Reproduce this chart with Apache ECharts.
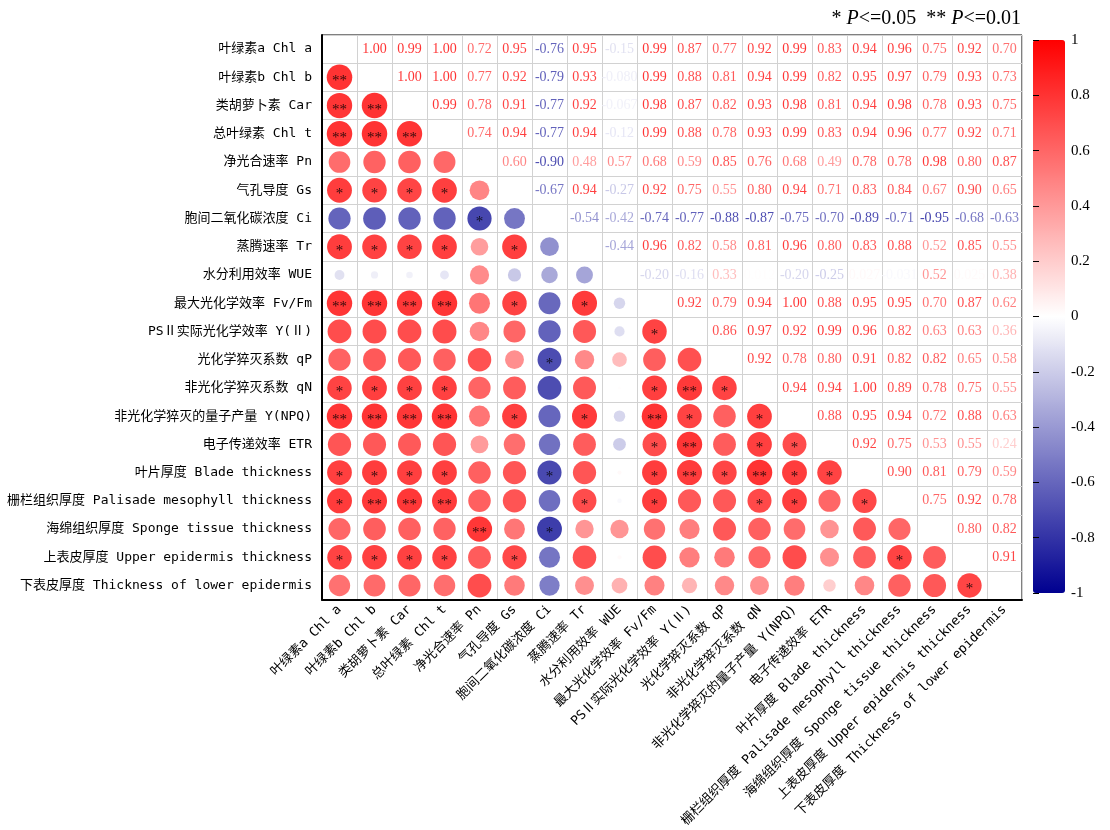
<!DOCTYPE html>
<html>
<head>
<meta charset="utf-8">
<script src="https://cdn.jsdelivr.net/npm/echarts@6/dist/echarts.min.js"></script>
<style>
  html, body { margin: 0; padding: 0; background: #ffffff; }
  #chart { width: 1110px; height: 830px; }
</style>
</head>
<body>
<div id="chart"></div>
<script>
// Trait names, in matrix order (rows top to bottom, columns left to right)
const variables = [
  '叶绿素a Chl a',
  '叶绿素b Chl b',
  '类胡萝卜素 Car',
  '总叶绿素 Chl t',
  '净光合速率 Pn',
  '气孔导度 Gs',
  '胞间二氧化碳浓度 Ci',
  '蒸腾速率 Tr',
  '水分利用效率 WUE',
  '最大光化学效率 Fv/Fm',
  'PSⅡ实际光化学效率 Y(Ⅱ)',
  '光化学猝灭系数 qP',
  '非光化学猝灭系数 qN',
  '非光化学猝灭的量子产量 Y(NPQ)',
  '电子传递效率 ETR',
  '叶片厚度 Blade thickness',
  '栅栏组织厚度 Palisade mesophyll thickness',
  '海绵组织厚度 Sponge tissue thickness',
  '上表皮厚度 Upper epidermis thickness',
  '下表皮厚度 Thickness of lower epidermis'
];

// Pearson r: row i lists r(i, j) for j = i+1 .. 19
const corrRows = [
  [1.00, 0.99, 1.00, 0.72, 0.95, -0.76, 0.95, -0.15, 0.99, 0.87, 0.77, 0.92, 0.99, 0.83, 0.94, 0.96, 0.75, 0.92, 0.70],
  [1.00, 1.00, 0.77, 0.92, -0.79, 0.93, -0.080, 0.99, 0.88, 0.81, 0.94, 0.99, 0.82, 0.95, 0.97, 0.79, 0.93, 0.73],
  [0.99, 0.78, 0.91, -0.77, 0.92, -0.067, 0.98, 0.87, 0.82, 0.93, 0.98, 0.81, 0.94, 0.98, 0.78, 0.93, 0.75],
  [0.74, 0.94, -0.77, 0.94, -0.12, 0.99, 0.88, 0.78, 0.93, 0.99, 0.83, 0.94, 0.96, 0.77, 0.92, 0.71],
  [0.60, -0.90, 0.48, 0.57, 0.68, 0.59, 0.85, 0.76, 0.68, 0.49, 0.78, 0.78, 0.98, 0.80, 0.87],
  [-0.67, 0.94, -0.27, 0.92, 0.75, 0.55, 0.80, 0.94, 0.71, 0.83, 0.84, 0.67, 0.90, 0.65],
  [-0.54, -0.42, -0.74, -0.77, -0.88, -0.87, -0.75, -0.70, -0.89, -0.71, -0.95, -0.68, -0.63],
  [-0.44, 0.96, 0.82, 0.58, 0.81, 0.96, 0.80, 0.83, 0.88, 0.52, 0.85, 0.55],
  [-0.20, -0.16, 0.33, 0.012, -0.20, -0.25, 0.027, -0.031, 0.52, 0.025, 0.38],
  [0.92, 0.79, 0.94, 1.00, 0.88, 0.95, 0.95, 0.70, 0.87, 0.62],
  [0.86, 0.97, 0.92, 0.99, 0.96, 0.82, 0.63, 0.63, 0.36],
  [0.92, 0.78, 0.80, 0.91, 0.82, 0.82, 0.65, 0.58],
  [0.94, 0.94, 1.00, 0.89, 0.78, 0.75, 0.55],
  [0.88, 0.95, 0.94, 0.72, 0.88, 0.63],
  [0.92, 0.75, 0.53, 0.55, 0.24],
  [0.90, 0.81, 0.79, 0.59],
  [0.75, 0.92, 0.78],
  [0.80, 0.82],
  [0.91],
  []
];

// Significance marks: row i lists marks for columns j = 0 .. i-1
const starRows = [
  [],
  ['**'],
  ['**', '**'],
  ['**', '**', '**'],
  ['', '', '', ''],
  ['*', '*', '*', '*', ''],
  ['', '', '', '', '*', ''],
  ['*', '*', '*', '*', '', '*', ''],
  ['', '', '', '', '', '', '', ''],
  ['**', '**', '**', '**', '', '*', '', '*', ''],
  ['', '', '', '', '', '', '', '', '', '*'],
  ['', '', '', '', '', '', '*', '', '', '', ''],
  ['*', '*', '*', '*', '', '', '', '', '', '*', '**', '*'],
  ['**', '**', '**', '**', '', '*', '', '*', '', '**', '*', '', '*'],
  ['', '', '', '', '', '', '', '', '', '*', '**', '', '*', '*'],
  ['*', '*', '*', '*', '', '', '*', '', '', '*', '**', '*', '**', '*', '*'],
  ['*', '**', '**', '**', '', '', '', '*', '', '*', '', '', '*', '*', '', '*'],
  ['', '', '', '', '**', '', '*', '', '', '', '', '', '', '', '', '', ''],
  ['*', '*', '*', '*', '', '*', '', '', '', '', '', '', '', '', '', '', '*', ''],
  ['', '', '', '', '', '', '', '', '', '', '', '', '', '', '', '', '', '', '*']
];

// Colour bar range and tick step
const barMin = -1;
const barMax = 1;
const barStep = 0.2;

const n = variables.length;
const NEG = [0, 0, 144], MID = [255, 255, 255], POS = [255, 0, 0];

// Full symmetric matrix
const R = [];
for (let i = 0; i < n; i++) R.push(new Array(n).fill(null));
for (let i = 0; i < n; i++) {
  corrRows[i].forEach((v, k) => {
    const j = i + 1 + k;
    R[i][j] = v;
    R[j][i] = v;
  });
}

function colorOf(v) {
  const t = Math.min(1, Math.abs(v));
  const end = v >= 0 ? POS : NEG;
  const c = MID.map((m, k) => Math.round(m + (end[k] - m) * t));
  return 'rgb(' + c.join(',') + ')';
}
function fmt(v) {
  return Math.abs(v) < 0.1 ? v.toPrecision(2) : v.toFixed(2);
}

// Lower triangle: circles; upper triangle: numbers
const circleData = [];
const textData = [];
for (let i = 0; i < n; i++) {
  for (let j = 0; j < n; j++) {
    if (j < i) {
      circleData.push({ name: starRows[i][j] || '', value: [j, i, R[i][j]] });
    } else if (j > i) {
      textData.push({
        value: [j, i, R[i][j]],
        label: { color: colorOf(R[i][j]) }
      });
    }
  }
}

const labelFont = "'DejaVu Sans Mono', 'Noto Sans CJK SC', monospace";
const serif = "'Liberation Serif', 'DejaVu Serif', serif";

const chart = echarts.init(document.getElementById('chart'), null, { renderer: 'canvas' });
chart.setOption({
  backgroundColor: '#ffffff',
  animation: false,
  title: {
    right: 84,
    top: 4,
    text: '{s|* }{i|P}{s|<=0.05  ** }{i|P}{s|<=0.01}',
    textStyle: {
      fontWeight: 'normal',
      rich: {
        s: { fontFamily: serif, fontSize: 20, fontWeight: 'normal', color: '#000' },
        i: { fontFamily: serif, fontSize: 20, fontWeight: 'normal', fontStyle: 'italic', color: '#000' }
      }
    }
  },
  grid: [
    { left: 322, top: 35, width: 700, height: 565, show: true, borderColor: '#000', borderWidth: 1 },
    { left: 1033, top: 40, width: 32, height: 553, show: false }
  ],
  xAxis: [
    {
      gridIndex: 0,
      type: 'category',
      data: variables,
      boundaryGap: true,
      axisLine: { lineStyle: { color: '#000', width: 2 } },
      axisTick: { show: false },
      splitLine: { show: true, lineStyle: { color: '#d2d2d2', width: 1 } },
      axisLabel: { interval: 0, rotate: 45, margin: 8, fontSize: 13, fontFamily: labelFont, color: '#000' }
    },
    { gridIndex: 1, type: 'value', show: false, min: 0, max: 1 }
  ],
  yAxis: [
    {
      gridIndex: 0,
      type: 'category',
      data: variables,
      inverse: true,
      boundaryGap: true,
      axisLine: { lineStyle: { color: '#000', width: 2 } },
      axisTick: { show: false },
      splitLine: { show: true, lineStyle: { color: '#d2d2d2', width: 1 } },
      axisLabel: { interval: 0, margin: 10, fontSize: 13, fontFamily: labelFont, color: '#000' }
    },
    {
      gridIndex: 1,
      type: 'value',
      position: 'right',
      min: barMin,
      max: barMax,
      interval: barStep,
      z: 10,
      axisLine: { show: false },
      axisTick: { show: true, length: 6, lineStyle: { color: '#000' } },
      splitLine: { show: false },
      axisLabel: { margin: 6, fontSize: 15, fontFamily: serif, color: '#000' }
    }
  ],
  visualMap: {
    type: 'continuous',
    seriesIndex: 0,
    dimension: 2,
    min: barMin,
    max: barMax,
    calculable: false,
    hoverLink: false,
    left: 1018,
    top: 25,
    itemWidth: 32,
    itemHeight: 553,
    z: 1,
    inRange: { color: [colorOf(-1), colorOf(0), colorOf(1)] }
  },
  series: [
    {
      name: 'circles',
      type: 'scatter',
      xAxisIndex: 0,
      yAxisIndex: 0,
      data: circleData,
      symbol: 'circle',
      symbolSize: (val) => 25.5 * Math.sqrt(Math.abs(val[2])),
      label: {
        show: true,
        position: 'inside',
        formatter: '{b}',
        color: '#000',
        fontFamily: serif,
        fontSize: 15,
        offset: [0, 4]
      }
    },
    {
      name: 'values',
      type: 'scatter',
      xAxisIndex: 0,
      yAxisIndex: 0,
      data: textData,
      symbolSize: 1,
      itemStyle: { color: 'rgba(0,0,0,0)' },
      label: {
        show: true,
        position: 'inside',
        formatter: (p) => fmt(p.value[2]),
        fontFamily: serif,
        fontSize: 14
      }
    }
  ]
});
</script>
</body>
</html>
